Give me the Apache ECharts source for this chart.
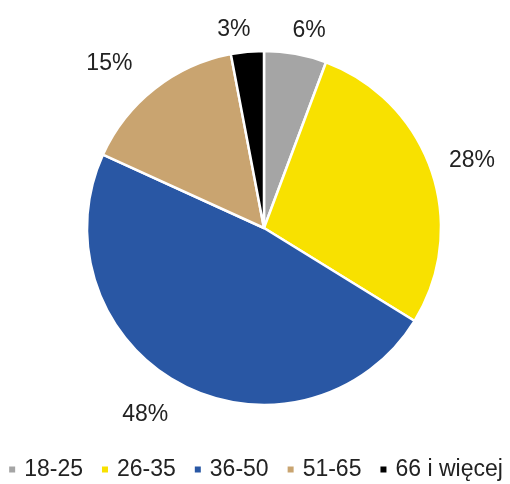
<!DOCTYPE html>
<html><head><meta charset="utf-8">
<script src="https://cdn.jsdelivr.net/npm/echarts@6/dist/echarts.min.js"></script>
<style>html,body{margin:0;padding:0;background:#fff}#c{width:510px;height:484px}</style>
</head><body><div id="c"></div>
<script>
const categories = ['18-25', '26-35', '36-50', '51-65', '66 i więcej'];
const values = [5.7, 28.1, 48.0, 15.2, 3.0];
const colors = ['#a5a5a5', '#f8e100', '#2957a4', '#c9a470', '#000000'];

const FONT = 'Liberation Sans, Arial, sans-serif';
const chart = echarts.init(document.getElementById('c'), null, {renderer: 'canvas'});
chart.setOption({
  animation: false,
  color: colors,
  textStyle: {fontFamily: FONT},
  legend: {
    bottom: 3,
    left: 'center',
    padding: 0,
    icon: 'rect',
    itemWidth: 8,
    itemHeight: 8,
    itemGap: 17,
    textStyle: {fontSize: 23, color: '#222', fontFamily: FONT, padding: [0, 0, 0, 3]},
    data: categories
  },
  series: [{
    type: 'pie',
    center: [264, 228],
    radius: 177,
    startAngle: 90,
    clockwise: true,
    data: categories.map((c, i) => ({name: c, value: values[i]})),
    itemStyle: {borderColor: '#fff', borderWidth: 2.5},
    label: {
      show: true,
      position: 'outside',
      fontSize: 23,
      color: '#222',
      fontFamily: FONT,
      formatter: p => Math.round(p.percent) + '%'
    },
    labelLine: {show: true, length: 10, length2: 0, lineStyle: {opacity: 0}},
    labelLayout: function (params) {
      const pts = params.labelLinePoints;
      if (!pts) return {};
      const dx0 = pts[1][0] - pts[0][0], dy0 = pts[1][1] - pts[0][1];
      const len = Math.sqrt(dx0 * dx0 + dy0 * dy0) || 1;
      const ux = dx0 / len, uy = dy0 / len;
      const w = params.labelRect.width, hg = 19;
      const off = 13 + Math.abs(ux) * w / 2 + Math.abs(uy) * hg / 2;
      const s = ux < 0 ? -(9 + 24 * Math.abs(ux)) : (10 - 5.6 * Math.abs(ux));
      return {
        x: pts[0][0] + ux * off + s,
        y: pts[0][1] + uy * off + 2,
        align: 'center',
        verticalAlign: 'middle'
      };
    }
  }]
});
</script></body></html>
